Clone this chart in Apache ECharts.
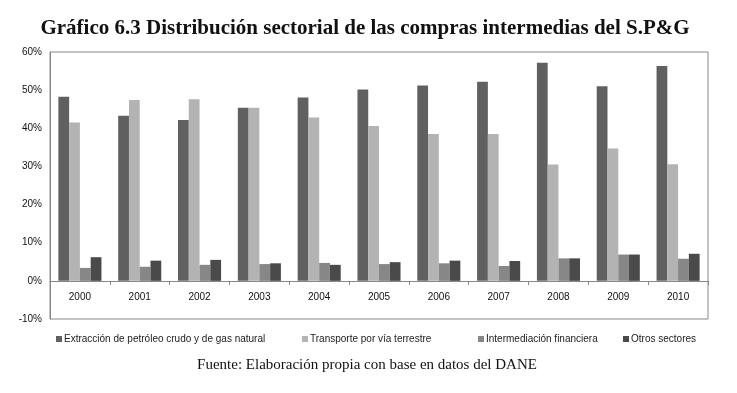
<!DOCTYPE html>
<html><head><meta charset="utf-8">
<script src="https://cdn.jsdelivr.net/npm/echarts@6/dist/echarts.min.js"></script>
<style>html,body{margin:0;padding:0;background:#fff}#c{width:737px;height:393px}</style>
</head><body><div id="c"></div>
<script>
var years = ['2000','2001','2002','2003','2004','2005','2006','2007','2008','2009','2010'];
var seriesNames = ['Extracción de petróleo crudo y de gas natural','Transporte por vía terrestre','Intermediación financiera','Otros sectores'];
var extraccion = [48.3, 43.3, 42.2, 45.4, 48.1, 50.2, 51.2, 52.2, 57.2, 51.0, 56.3];
var transporte = [41.5, 47.4, 47.6, 45.4, 42.8, 40.6, 38.5, 38.5, 30.5, 34.7, 30.6];
var intermediacion = [3.4, 3.7, 4.2, 4.4, 4.7, 4.4, 4.6, 3.9, 5.9, 6.9, 5.8];
var otros = [6.2, 5.3, 5.5, 4.6, 4.2, 4.9, 5.3, 5.2, 5.9, 6.9, 7.1];
var colors = ['#606060','#b3b3b3','#878787','#4a4a4a'];

var chart = echarts.init(document.getElementById('c'), null, {renderer:'canvas'});
var vals = [extraccion, transporte, intermediacion, otros];
var legendLeft = [51, 297, 473, 618];
var series = vals.map(function(v,i){
  return {name: seriesNames[i], type:'bar', data:v, barGap:'0%', barCategoryGap:'28%',
    itemStyle:{color:colors[i]}, emphasis:{disabled:true}};
});
chart.setOption({
  animation:false,
  title:[{text:'Gráfico 6.3 Distribución sectorial de las compras intermedias del S.P&G', left:360, textAlign:'center', top:13,
    textStyle:{fontFamily:'Liberation Serif', fontWeight:'bold', fontSize:21, color:'#111'}},
    {text:'Fuente: Elaboración propia con base en datos del DANE', left:362, textAlign:'center', top:353,
    textStyle:{fontFamily:'Liberation Serif', fontWeight:'normal', fontSize:15, color:'#111'}}],
  legend: seriesNames.map(function(n,i){
    return {data:[n], left:legendLeft[i], top:329, itemWidth:6, itemHeight:6, itemGap:0, icon:'rect',
      textStyle:{fontFamily:'Liberation Sans', fontSize:10, color:'#222', padding:[0,0,0,-3]}, selectedMode:false};
  }),
  grid:{left:50, right:29, top:52, bottom:74, show:true, borderColor:'#888', borderWidth:1},
  xAxis:{type:'category', data:years, position:'bottom', offset:-38,
    axisLine:{onZero:false, lineStyle:{color:'#888'}},
    axisTick:{show:true, length:4, lineStyle:{color:'#888'}},
    axisLabel:{fontFamily:'Liberation Sans', fontSize:10, color:'#111', margin:11}},
  yAxis:{type:'value', min:-10, max:60, interval:10,
    axisLine:{show:true, lineStyle:{color:'#888'}},
    axisTick:{show:false}, splitLine:{show:false},
    axisLabel:{formatter:'{value}%', fontFamily:'Liberation Sans', fontSize:10, color:'#111', margin:8}},
  series: series
});
</script></body></html>
